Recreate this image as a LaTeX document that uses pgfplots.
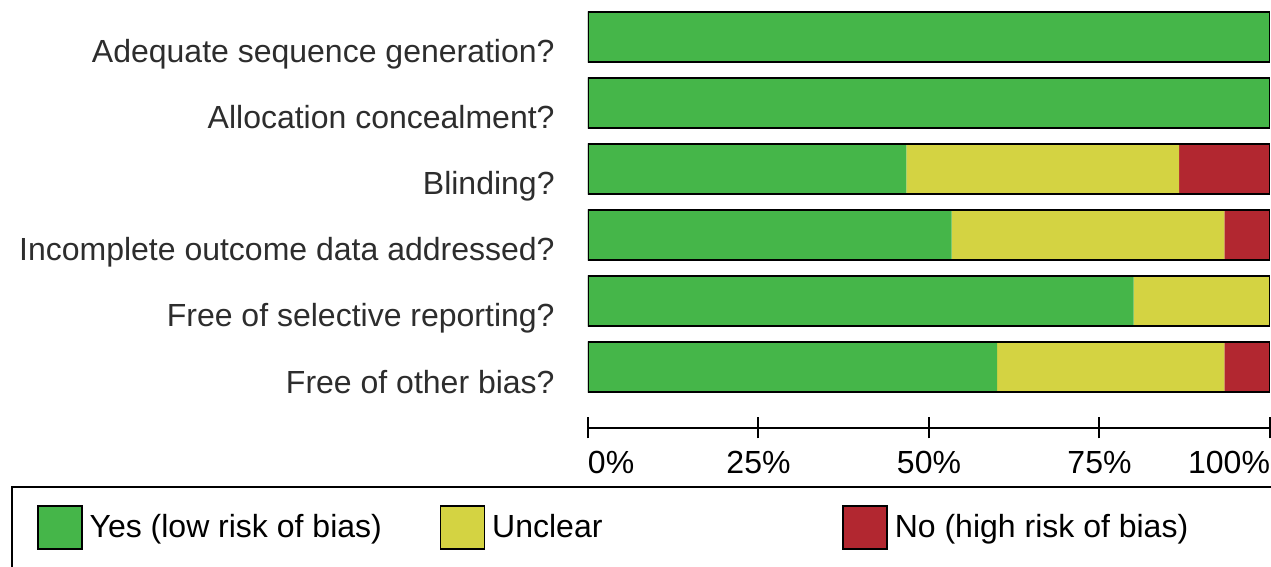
\documentclass[border=0pt]{standalone}
\usepackage{pgfplots}
\pgfplotsset{compat=1.18}
\usepackage{fontspec}
\setmainfont{Liberation Sans}
\definecolor{cgreen}{RGB}{69,182,73}
\definecolor{cyellow}{RGB}{212,211,66}
\definecolor{cred}{RGB}{178,39,48}
\definecolor{labgray}{RGB}{45,45,45}
\newcommand{\lf}{\fontsize{16}{19}\selectfont}
\begin{document}
\begin{tikzpicture}
\pgfplotsset{common/.style={
  scale only axis, width=341pt, height=214pt,
  xmin=0, xmax=100, ymin=-0.924, ymax=5.56,
  bar width=25pt,
}}
\begin{axis}[common,
  xbar stacked,
  axis x line*=bottom, axis y line*=left,
  y axis line style={draw=none},
  x axis line style={line width=1pt, -},
  xtick={0,25,50,75,100},
  xticklabels={\makebox[0pt][l]{0\%},25\%,50\%,75\%,\makebox[0pt][r]{100\%}},
  xtick align=center,
  x tick style={line width=1pt, black},
  major tick length=10.5pt,
  xticklabel style={font=\lf, anchor=north, yshift=-3pt},
  ytick={0,1,2,3,4,5},
  yticklabels={Free of other bias?, Free of selective reporting?, Incomplete outcome data addressed?, Blinding?, Allocation concealment?, Adequate sequence generation?},
  y tick style={draw=none},
  yticklabel style={font=\lf, text=labgray, anchor=base east, inner sep=0pt, yshift=-13pt, xshift=-16.5pt},
  legend image code/.code={\draw[#1,draw=black,line width=0.8pt] (0pt,-10.75pt) rectangle (22pt,10.75pt);},
  legend columns=3,
  legend style={at={(-0.846,-0.1356)}, anchor=north west, draw=black, line width=1pt,
    inner xsep=12.5pt, inner ysep=9pt, font=\lf,
    nodes={inner sep=0pt}},
]
\addplot[fill=cgreen, draw=none] coordinates {(60,0) (80,1) (53.33,2) (46.67,3) (100,4) (100,5)};
\addplot[fill=cyellow, draw=none] coordinates {(33.33,0) (20,1) (40,2) (40,3) (0,4) (0,5)};
\addplot[fill=cred, draw=none] coordinates {(6.67,0) (0,1) (6.67,2) (13.33,3) (0,4) (0,5)};
\legend{\hspace*{3.5pt}\makebox[175pt][l]{Yes (low risk of bias)},
        \hspace*{3.5pt}\makebox[175pt][l]{Unclear},
        \hspace*{3.5pt}\makebox[186pt][l]{No (high risk of bias)}}
\end{axis}
\begin{axis}[common, xbar, hide axis]
\addplot[fill=none, draw=black, line width=1.2pt] coordinates {(100,0) (100,1) (100,2) (100,3) (100,4) (100,5)};
\end{axis}
\pgfresetboundingbox
\path[use as bounding box] (-294pt,-69.5pt) rectangle (341.5pt,214pt);
\end{tikzpicture}
\end{document}
